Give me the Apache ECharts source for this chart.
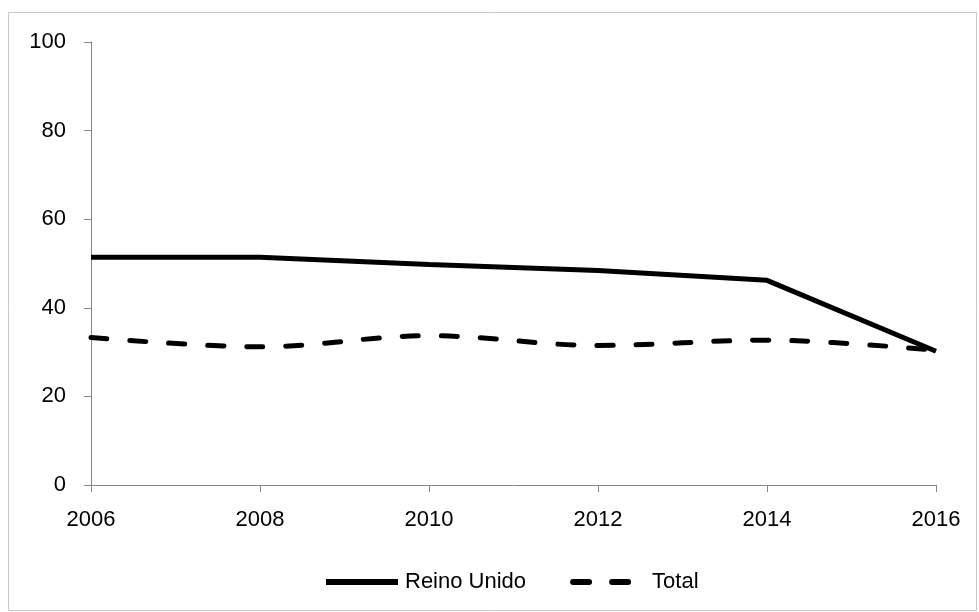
<!DOCTYPE html>
<html>
<head>
<meta charset="utf-8">
<script src="https://cdn.jsdelivr.net/npm/echarts@6/dist/echarts.min.js"></script>
<style>
  html, body { margin: 0; padding: 0; background: #fff; }
  #chart { width: 979px; height: 612px; }
</style>
</head>
<body>
<div id="chart"></div>
<script>
// Survey years on the horizontal axis
const years = ['2006', '2008', '2010', '2012', '2014', '2016'];
// Percentages per year
const reinoUnido = [51.4, 51.4, 49.8, 48.4, 46.2, 30.2];
const total = [33.3, 31.2, 33.7, 31.5, 32.7, 30.4];

const FONT = '"Liberation Sans", Arial, sans-serif';
const AXIS_GREY = '#868686';

const chart = echarts.init(document.getElementById('chart'), null, { renderer: 'canvas' });

chart.setOption({
  animation: false,
  backgroundColor: '#ffffff',
  graphic: [{
    type: 'rect',
    shape: { x: 8.5, y: 12.5, width: 968, height: 598 },
    style: { fill: 'none', stroke: '#c8c8c8', lineWidth: 1 },
    silent: true,
    z: -1
  }],
  grid: { left: 91, right: 43, top: 42, bottom: 127, containLabel: false },
  legend: {
    top: 566,
    left: 318,
    itemWidth: 72,
    itemHeight: 14,
    itemGap: 44,
    itemStyle: { opacity: 0 },
    lineStyle: { width: 6 },
    textStyle: { fontFamily: FONT, fontSize: 22, color: '#000', padding: [0, 0, 0, 2] },
    data: ['Reino Unido', 'Total']
  },
  xAxis: {
    type: 'category',
    data: years,
    boundaryGap: false,
    axisLine: { lineStyle: { color: AXIS_GREY, width: 1 } },
    axisTick: { show: true, alignWithLabel: true, length: 7, lineStyle: { color: AXIS_GREY } },
    axisLabel: { fontFamily: FONT, fontSize: 22, color: '#000', margin: 24 },
    splitLine: { show: false }
  },
  yAxis: {
    type: 'value',
    min: 0,
    max: 100,
    interval: 20,
    axisLine: { show: true, lineStyle: { color: AXIS_GREY, width: 1 } },
    axisTick: { show: true, length: 7, lineStyle: { color: AXIS_GREY } },
    axisLabel: { fontFamily: FONT, fontSize: 22, color: '#000', margin: 25 },
    splitLine: { show: false }
  },
  series: [
    {
      name: 'Reino Unido',
      type: 'line',
      data: reinoUnido,
      symbol: 'none',
      itemStyle: { color: '#000' },
      lineStyle: { color: '#000', width: 5 }
    },
    {
      name: 'Total',
      type: 'line',
      data: total,
      symbol: 'none',
      smooth: 0.35,
      itemStyle: { color: '#000' },
      lineStyle: { color: '#000', width: 5, type: [16, 23], cap: 'round' }
    }
  ]
});
</script>
</body>
</html>
